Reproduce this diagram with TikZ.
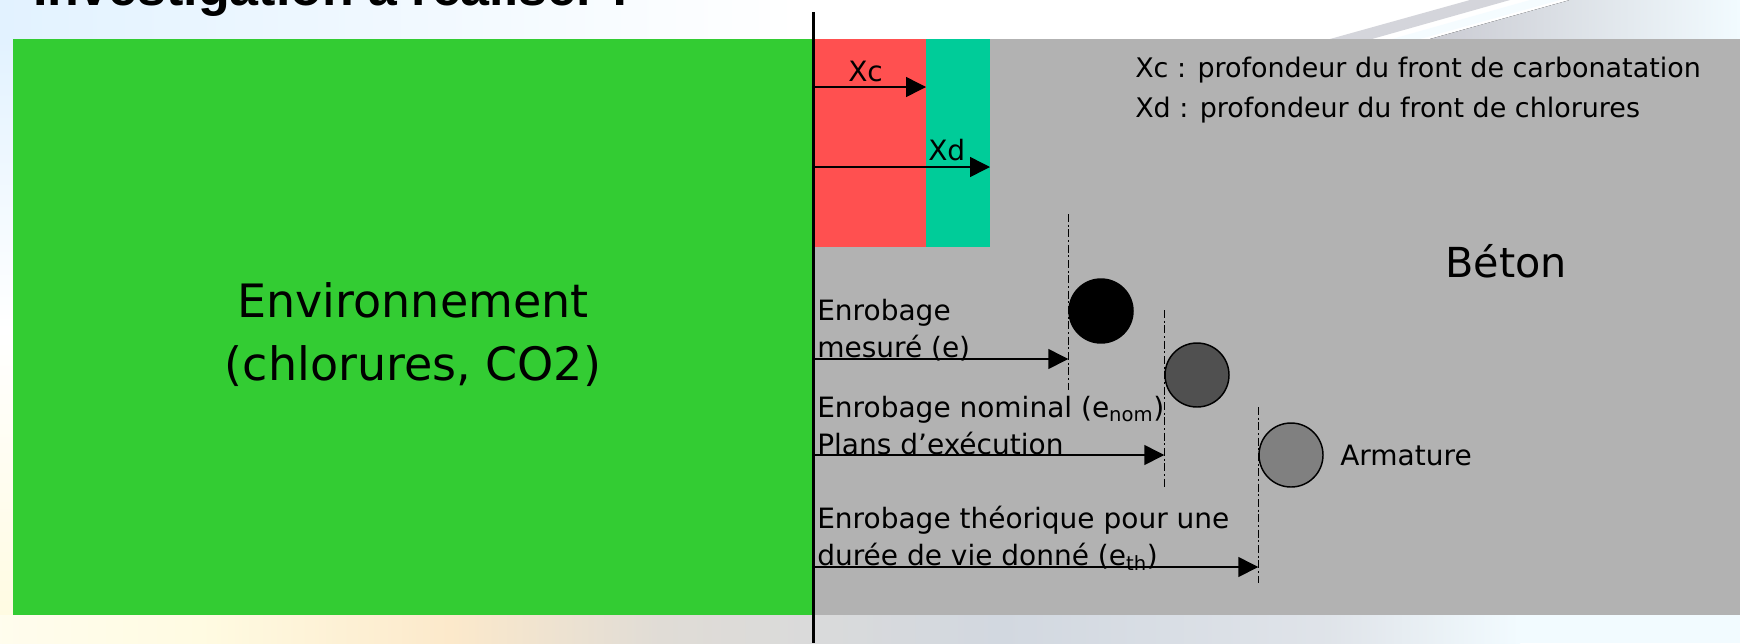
\documentclass[tikz,border=0pt]{standalone}
\usepackage{fontspec}
\setmainfont{DejaVu Sans}
\newfontfamily\titlefont{Liberation Sans}
\usetikzlibrary{arrows.meta}

\definecolor{envgreen}{HTML}{33CC33}
\definecolor{concrete}{HTML}{B2B2B2}
\definecolor{carbred}{HTML}{FF5050}
\definecolor{chlorteal}{HTML}{00CC99}
\definecolor{bardark}{HTML}{505050}
\definecolor{barmid}{HTML}{808080}
\definecolor{skyblue}{HTML}{E2F2FF}
\definecolor{paleyellow}{HTML}{FFFBE2}
\definecolor{warmsand}{HTML}{FCE9CB}
\definecolor{greige}{HTML}{E0DCD6}
\definecolor{steelmist}{HTML}{D2D8E0}
\definecolor{icewhite}{HTML}{F2FBFF}
\definecolor{streakgray}{HTML}{CACBD2}

\begin{document}
\begin{tikzpicture}[x=0.75pt,y=-0.75pt,
  zone/.style={rectangle, inner sep=0pt, outer sep=0pt, anchor=north west},
  small/.style={font=\fontsize{21}{25}\selectfont, inner sep=0pt, anchor=base west},
  legend/.style={font=\fontsize{20.2}{24}\selectfont, inner sep=0pt, anchor=base west},
  big/.style={font=\fontsize{34.5}{47}\selectfont, inner sep=0pt},
  depth/.style={line width=1.1pt, -{Triangle[length=15pt,width=15pt]}},
  cutline/.style={line width=0.75pt, dash pattern=on 6pt off 2pt on 1.5pt off 2pt},
  rebar/.style={circle, draw=black, line width=1.1pt, minimum size=48pt, inner sep=0pt}]

\useasboundingbox (0,0) rectangle (1740,643);
\clip (0,0) rectangle (1740,643);

% slide background
\fill[white] (0,0) rectangle (1740,643);
\fill[left color=skyblue, right color=white] (0,0) rectangle (800,39);
\fill[top color=skyblue, bottom color=white] (0,39) rectangle (13,330);
\fill[top color=white, bottom color=paleyellow] (0,330) rectangle (13,615);
% diagonal streaks, top right
\fill[streakgray, opacity=0.8] (1330,39) -- (1470,0) -- (1510,0) -- (1372,39) -- cycle;
\fill[left color=streakgray, right color=icewhite] (1430,39) -- (1570,0) -- (1740,0) -- (1740,39) -- cycle;
\fill[icewhite, opacity=0.7] (1392,39) -- (1530,0) -- (1560,0) -- (1420,39) -- cycle;
% warm to cool band, bottom
\fill[left color=paleyellow!60!white, right color=paleyellow] (0,615) rectangle (200,643);
\fill[left color=paleyellow, right color=warmsand] (200,615) rectangle (450,643);
\fill[left color=warmsand, right color=greige] (450,615) rectangle (660,643);
\fill[left color=greige, right color=steelmist] (660,615) rectangle (1000,643);
\fill[left color=steelmist, right color=steelmist!70!white] (1000,615) rectangle (1330,643);
\fill[left color=steelmist!70!white, right color=icewhite] (1330,615) rectangle (1520,643);
\fill[icewhite] (1520,615) rectangle (1740,643);

% title, partly above the page
\node[anchor=base west, inner sep=0pt, font=\titlefont\bfseries\fontsize{39}{45}\selectfont]
  (title) at (33,5) {Investigation à réaliser :};

% environment and concrete zones
\node[zone, fill=envgreen, minimum width=600pt, minimum height=432pt] (env) at (13,39) {};
\node[zone, fill=concrete, minimum width=695.25pt, minimum height=432pt] (beton) at (813,39) {};
\node[zone, fill=carbred, minimum width=84.75pt, minimum height=156pt] (carb) at (813,39) {};
\node[zone, fill=chlorteal, minimum width=48pt, minimum height=156pt] (chlor) at (carb.north east) {};

% concrete surface
\coordinate (surftop) at (813,12);
\coordinate (surfbot) at (813,643);
\draw[line width=2.25pt] (surftop) -- (surfbot);

% carbonation and chloride fronts
\coordinate (sXc) at (813,87);
\coordinate (sXd) at (813,167);
\draw[depth] (sXc) -- (sXc -| carb.east);
\draw[depth] (sXd) -- (sXd -| chlor.east);
\node[small] (lXc) at (848,81) {Xc};
\node[small] (lXd) at (928,160) {Xd};

% legend
\node[legend] (leg1) at (1135,77) {Xc : profondeur du front de carbonatation};
\node[legend] (leg2) at (1135,117) {Xd : profondeur du front de chlorures};

% zone labels
\node[big, anchor=base] (lenv1) at (413,317) {Environnement};
\node[big, anchor=base] (lenv2) at (413,380) {(chlorures, CO2)};
\node[big, anchor=base west, font=\fontsize{31}{40}\selectfont] (lbeton) at (1445,277) {Béton};

% reinforcing bars
\node[rebar, fill=black] (bar1) at (1101,311) {};
\node[rebar, fill=bardark] (bar2) at (1197,375) {};
\node[rebar, fill=barmid] (bar3) at (1291,455) {};
\node[small] (larm) at (1340,465) {Armature};

% cover limits
\draw[cutline] (bar1.west |- 0,214) -- (bar1.west |- 0,390);
\draw[cutline] (bar2.west |- 0,310) -- (bar2.west |- 0,488);
\draw[cutline] (bar3.west |- 0,407) -- (bar3.west |- 0,583);

% cover depths
\coordinate (s1) at (813,359);
\coordinate (s2) at (813,455);
\coordinate (s3) at (813,567);
\draw[depth] (s1) -- (s1 -| bar1.west);
\draw[depth] (s2) -- (s2 -| bar2.west);
\draw[depth] (s3) -- (s3 -| bar3.west);

\node[small] (t1a) at (817,320) {Enrobage};
\node[small] (t1b) at (817,357) {mesuré (e)};
\node[small] (t2a) at (817,417) {Enrobage nominal (e\textsubscript{nom})};
\node[small] (t2b) at (817,454) {Plans d’exécution};
\node[small] (t3a) at (817,528) {Enrobage théorique pour une};
\node[small] (t3b) at (817,565) {durée de vie donné (e\textsubscript{th})};

\end{tikzpicture}
\end{document}
